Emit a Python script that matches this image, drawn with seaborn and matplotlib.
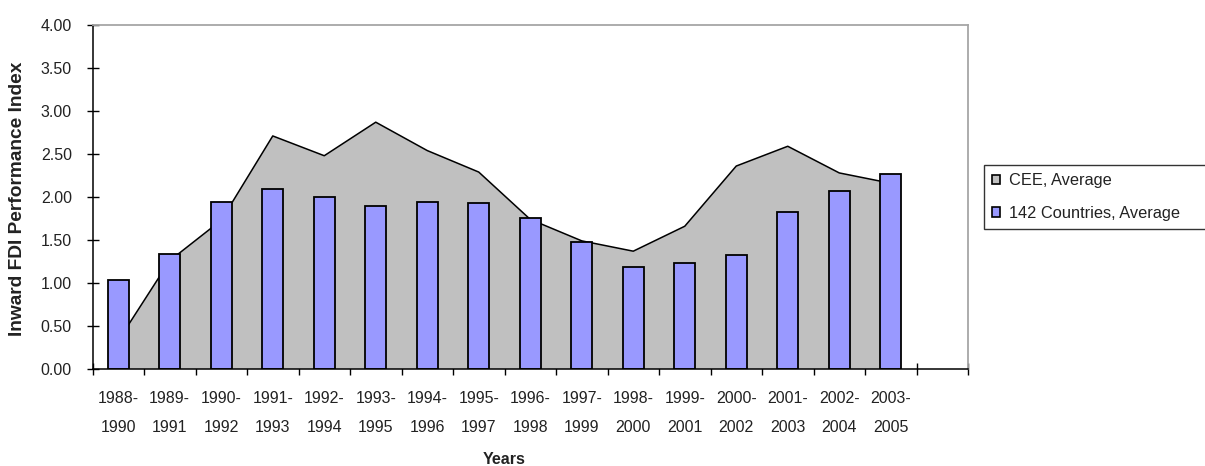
import numpy as np
import matplotlib
matplotlib.use("Agg")
import matplotlib.pyplot as plt
import seaborn as sns
from matplotlib.ticker import FixedLocator, FormatStrFormatter
from matplotlib.patches import Patch

# ---- data ----
periods = ["1988-\n1990", "1989-\n1991", "1990-\n1992", "1991-\n1993", "1992-\n1994",
           "1993-\n1995", "1994-\n1996", "1995-\n1997", "1996-\n1998", "1997-\n1999",
           "1998-\n2000", "1999-\n2001", "2000-\n2002", "2001-\n2003", "2002-\n2004",
           "2003-\n2005"]
cee_avg = [0.33, 1.26, 1.73, 2.71, 2.48, 2.87, 2.54, 2.29, 1.74, 1.49,
           1.37, 1.66, 2.36, 2.59, 2.28, 2.16]
countries_avg = [1.03, 1.34, 1.94, 2.09, 2.00, 1.89, 1.94, 1.93, 1.76, 1.48,
                 1.19, 1.23, 1.32, 1.82, 2.07, 2.27]
y_ticks = [0.0, 0.5, 1.0, 1.5, 2.0, 2.5, 3.0, 3.5, 4.0]
legend_labels = ["CEE, Average", "142 Countries, Average"]

sns.set_style("white")
plt.rcParams['font.family'] = ['Liberation Sans', 'DejaVu Sans']

fig = plt.figure(figsize=(12.05, 4.66), dpi=100)
ax = fig.add_axes([92.5 / 1205, 1 - 369 / 466, (968 - 92.5) / 1205, 344 / 466])

pos = np.arange(len(periods))
ax.fill_between(pos, cee_avg, 0, facecolor="#c0c0c0", edgecolor="none", zorder=1)
sns.lineplot(x=pos, y=cee_avg, ax=ax, color="black", linewidth=1.1, zorder=2)

sns.barplot(x=pos, y=countries_avg, ax=ax, color="#9999ff", saturation=1,
            width=0.414, edgecolor="black", linewidth=1.3, zorder=3, native_scale=True)

ax.set_xlim(-0.5, len(periods) + 0.5)
ax.set_ylim(0, 4)

ax.tick_params(bottom=True, left=True, which="both")
ax.xaxis.set_major_locator(FixedLocator(pos))
ax.set_xticklabels(periods)
ax.xaxis.set_minor_locator(FixedLocator(np.arange(-0.5, len(periods) + 1, 1.0)))
ax.tick_params(axis="x", which="major", length=0, pad=15.5, labelsize=11.5,
               labelcolor="#222222")
ax.tick_params(axis="x", which="minor", length=8.6, direction="inout", width=1, color="black")

ax.yaxis.set_major_locator(FixedLocator(y_ticks))
ax.yaxis.set_major_formatter(FormatStrFormatter("%.2f"))
ax.tick_params(axis="y", which="major", length=8.6, direction="inout", width=1,
               color="black", labelsize=11.5, pad=10.5, labelcolor="#222222")

for s in ["left", "bottom"]:
    ax.spines[s].set_color("black")
    ax.spines[s].set_linewidth(1.1)
for s in ["top", "right"]:
    ax.spines[s].set_color("#a6a6a6")
    ax.spines[s].set_linewidth(1.3)
ax.spines["bottom"].set_zorder(5)

ax.set_xlabel("")
ax.set_ylabel("")
fig.text(18 / 1205, 1 - 199 / 466, "Inward FDI Performance Index", rotation=90,
         ha="center", va="center", fontsize=13.8, fontweight="bold", color="#222222")
fig.text(504 / 1205, 1 - 460 / 466, "Years", ha="center", va="center",
         fontsize=11.5, fontweight="bold", color="#222222")

handles = [Patch(facecolor="#c0c0c0", edgecolor="black", linewidth=1.2),
           Patch(facecolor="#9999ff", edgecolor="black", linewidth=1.2)]
leg = fig.legend(handles, legend_labels, loc="upper left",
                 bbox_to_anchor=(984 / 1205, 1 - 165 / 466, 0.25, 0), mode="expand",
                 borderaxespad=0, fancybox=False, frameon=True, fontsize=11.8,
                 handlelength=0.45, handleheight=0.5, handletextpad=0.6,
                 labelspacing=1.07, borderpad=0.5)
leg.get_frame().set_edgecolor("black")
leg.get_frame().set_linewidth(1.0)
for t in leg.get_texts():
    t.set_color("#222222")

fig.canvas.draw()
for lbl in ax.get_xticklabels():
    lbl.set_linespacing(2.2)

fig.savefig("out.png", dpi=100)
